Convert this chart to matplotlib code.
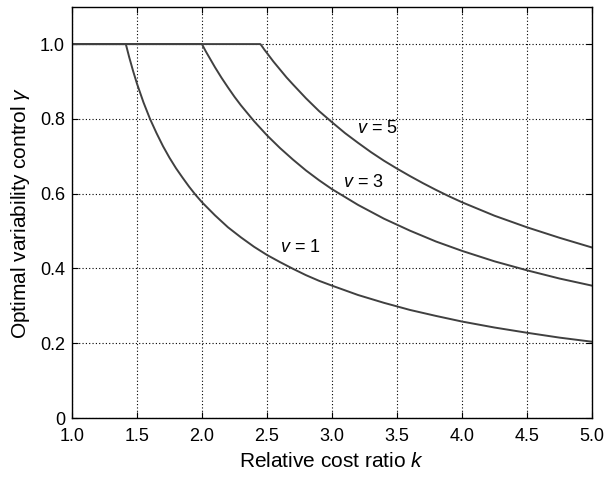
import matplotlib
matplotlib.use("Agg")
import matplotlib.pyplot as plt

plt.rcParams['font.family'] = ['Liberation Sans', 'DejaVu Sans']
plt.rcParams['mathtext.fontset'] = 'custom'
plt.rcParams['mathtext.rm'] = 'Liberation Sans'
plt.rcParams['mathtext.it'] = 'Liberation Sans:italic'

# Data
k_v1 = [1.0, 1.414, 1.42, 1.44, 1.47, 1.5, 1.525, 1.55, 1.575, 1.6, 1.65, 1.7, 1.75, 1.8,
        1.85, 1.9, 1.95, 2.0, 2.1, 2.2, 2.3, 2.4, 2.5, 2.6, 2.7, 2.8, 2.9, 3.0, 3.2, 3.4,
        3.6, 3.8, 4.0, 4.25, 4.5, 4.75, 5.0]
g_v1 = [1.0, 1.0, 0.992, 0.965, 0.928, 0.894, 0.869, 0.844, 0.822, 0.800, 0.762, 0.727,
        0.696, 0.668, 0.643, 0.619, 0.597, 0.577, 0.542, 0.510, 0.483, 0.458, 0.436, 0.417,
        0.399, 0.382, 0.367, 0.354, 0.329, 0.308, 0.289, 0.273, 0.258, 0.242, 0.228, 0.215,
        0.204]

k_v3 = [1.0, 2.0, 2.01, 2.03, 2.06, 2.1, 2.15, 2.2, 2.25, 2.3, 2.4, 2.5, 2.6, 2.7, 2.8,
        2.9, 3.0, 3.2, 3.4, 3.6, 3.8, 4.0, 4.25, 4.5, 4.75, 5.0]
g_v3 = [1.0, 1.0, 0.993, 0.980, 0.962, 0.938, 0.910, 0.884, 0.859, 0.836, 0.794, 0.756,
        0.722, 0.691, 0.662, 0.636, 0.612, 0.570, 0.533, 0.501, 0.472, 0.447, 0.419, 0.395,
        0.373, 0.354]

k_v5 = [1.0, 2.449, 2.46, 2.48, 2.5, 2.55, 2.6, 2.65, 2.7, 2.8, 2.9, 3.0, 3.1, 3.2, 3.3,
        3.4, 3.5, 3.6, 3.7, 3.8, 3.9, 4.0, 4.25, 4.5, 4.75, 5.0]
g_v5 = [1.0, 1.0, 0.995, 0.985, 0.976, 0.953, 0.932, 0.911, 0.892, 0.855, 0.821, 0.791,
        0.762, 0.736, 0.711, 0.688, 0.667, 0.647, 0.628, 0.610, 0.593, 0.577, 0.541, 0.510,
        0.482, 0.456]

labels = ['$v$ = 1', '$v$ = 3', '$v$ = 5']
label_pos = [(2.76, 0.457), (3.24, 0.63), (3.35, 0.775)]

x_ticks = [1.0, 1.5, 2.0, 2.5, 3.0, 3.5, 4.0, 4.5, 5.0]
x_ticklabels = ['1.0', '1.5', '2.0', '2.5', '3.0', '3.5', '4.0', '4.5', '5.0']
y_ticks = [0, 0.2, 0.4, 0.6, 0.8, 1.0]
y_ticklabels = ['0', '0.2', '0.4', '0.6', '0.8', '1.0']

fig = plt.figure(figsize=(6.05, 4.78), dpi=100)
ax = fig.add_axes([0.119, 0.1255, 0.8595, 0.8605])

line_color = '#404040'
for kx, gy in [(k_v1, g_v1), (k_v3, g_v3), (k_v5, g_v5)]:
    ax.plot(kx, gy, color=line_color, lw=1.4)

for txt, (x, y) in zip(labels, label_pos):
    ax.text(x, y, txt, fontsize=13, ha='center', va='center')

ax.set_xlim(1.0, 5.0)
ax.set_ylim(0, 1.1)
ax.set_xticks(x_ticks)
ax.set_xticklabels(x_ticklabels)
ax.set_yticks(y_ticks)
ax.set_yticklabels(y_ticklabels)
ax.tick_params(direction='in', top=True, right=True, labelsize=13, length=4, width=0.8)
ax.tick_params(axis='x', pad=7)
ax.tick_params(axis='y', pad=5)
ax.grid(True, linestyle=(0, (1, 2)), color='black', linewidth=0.8)
for s in ax.spines.values():
    s.set_linewidth(1.0)

ax.set_xlabel('Relative cost ratio $k$', fontsize=15, labelpad=5)
ax.set_ylabel(r'Optimal variability control $\gamma$', fontsize=15, labelpad=6)

fig.savefig('out.png', dpi=100)
